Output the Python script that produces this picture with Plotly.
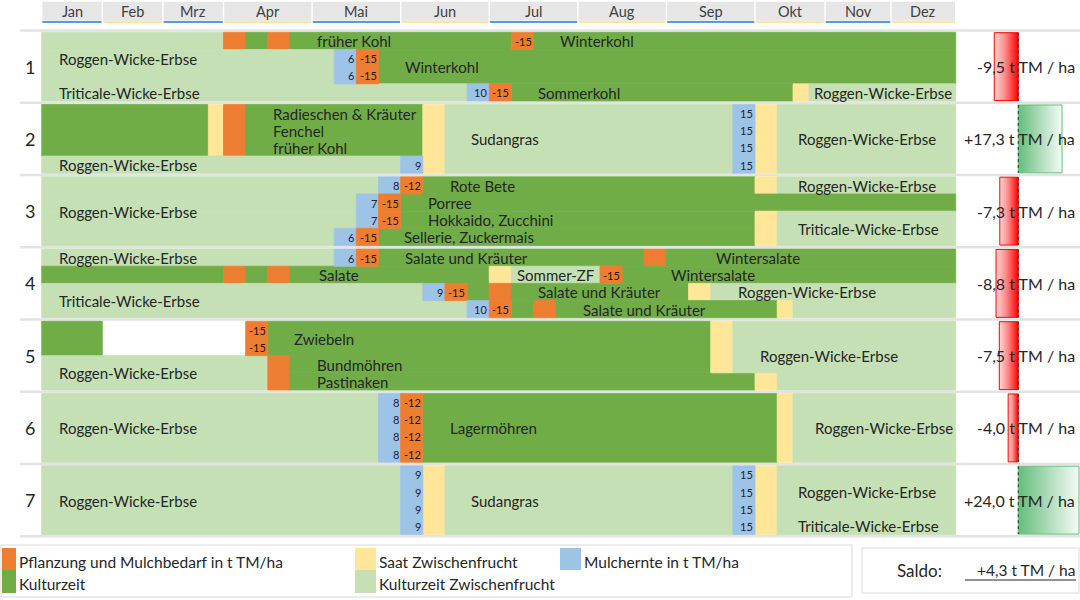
import plotly.graph_objects as go

# ---------------- data ----------------
MONTHS = ["Jan", "Feb", "Mrz", "Apr", "Mai", "Jun", "Jul", "Aug", "Sep", "Okt", "Nov", "Dez"]
ROW_NUMBERS = ["1", "2", "3", "4", "5", "6", "7"]
SALDO = [-9.5, 17.3, -7.3, -8.8, -7.5, -4.0, 24.0]
SALDO_TOTAL = 4.3
UNIT = "t TM / ha"

LEGEND_KINDS = ["P", "K", "S", "Z", "M"]
LEGEND_LABELS = ["Pflanzung und Mulchbedarf in t TM/ha", "Kulturzeit", "Saat Zwischenfrucht",
                 "Kulturzeit Zwischenfrucht", "Mulchernte in t TM/ha"]

# phases: (lane_from, lane_to, week_from, week_to, kind)
# P = Pflanzung, K = Kulturzeit, S = Saat Zwischenfrucht, Z = Kulturzeit Zwischenfrucht
ROW1_PHASES = [(0, 1, 0, 12, "Z"), (0, 1, 12, 13, "P"), (0, 1, 13, 14, "K"), (0, 1, 14, 15, "P"),
               (0, 1, 15, 25, "K"), (0, 1, 26, 48, "K"),
               (1, 3, 0, 17, "Z"), (1, 3, 19, 48, "K"),
               (3, 4, 0, 23, "Z"), (3, 4, 25, 38, "K"), (3, 4, 38, 39, "S"), (3, 4, 39, 48, "Z")]
ROW2_PHASES = [(0, 3, 0, 11, "K"), (0, 3, 11, 12, "S"), (0, 3, 12, 13, "P"), (0, 3, 13, 21, "K"),
               (3, 4, 0, 20, "Z"), (0, 4, 21, 22, "S"), (0, 4, 22, 35, "Z"), (0, 4, 36, 37, "S"),
               (0, 4, 37, 48, "Z")]
ROW3_PHASES = [(0, 1, 0, 19, "Z"), (0, 1, 21, 36, "K"), (0, 1, 36, 37, "S"), (0, 1, 37, 48, "Z"),
               (1, 2, 0, 18, "Z"), (1, 2, 20, 48, "K"),
               (2, 3, 0, 18, "Z"), (2, 3, 20, 36, "K"),
               (3, 4, 0, 17, "Z"), (3, 4, 19, 36, "K"),
               (2, 4, 36, 37, "S"), (2, 4, 37, 48, "Z")]
ROW4_PHASES = [(0, 1, 0, 17, "Z"), (0, 1, 19, 31, "K"), (0, 1, 31, 32, "P"), (0, 1, 32, 48, "K"),
               (1, 2, 0, 12, "K"), (1, 2, 12, 13, "P"), (1, 2, 13, 14, "K"), (1, 2, 14, 15, "P"),
               (1, 2, 15, 24, "K"), (1, 2, 24, 25, "S"), (1, 2, 25, 29, "Z"), (1, 2, 30, 48, "K"),
               (2, 3, 0, 21, "Z"), (2, 3, 23, 24, "K"), (2, 3, 24, 25, "P"), (2, 3, 25, 33, "K"),
               (2, 3, 33, 34, "S"), (2, 3, 34, 48, "Z"),
               (3, 4, 0, 23, "Z"), (3, 4, 25, 26, "K"), (3, 4, 26, 27, "P"), (3, 4, 27, 37, "K"),
               (3, 4, 37, 38, "S"), (3, 4, 38, 48, "Z")]
ROW5_PHASES = [(0, 2, 0, 4, "K"), (0, 2, 14, 34, "K"),
               (2, 4, 0, 14, "Z"), (2, 4, 14, 15, "P"), (2, 3, 15, 34, "K"),
               (3, 4, 15, 36, "K"), (3, 4, 36, 37, "S"), (3, 4, 37, 48, "Z"),
               (0, 3, 34, 35, "S"), (0, 3, 35, 48, "Z")]
ROW6_PHASES = [(0, 4, 0, 19, "Z"), (0, 4, 21, 37, "K"), (0, 4, 37, 38, "S"), (0, 4, 38, 48, "Z")]
ROW7_PHASES = [(0, 4, 0, 20, "Z"), (0, 4, 21, 22, "S"), (0, 4, 22, 35, "Z"), (0, 4, 36, 37, "S"),
               (0, 4, 37, 48, "Z")]

# mulch values: (lane, week, t TM/ha) -> positive = Mulchernte, negative = Mulchbedarf
ROW1_VALUES = [(1, 17, 6), (2, 17, 6), (1, 18, -15), (2, 18, -15), (0, 25, -15), (3, 23, 10), (3, 24, -15)]
ROW2_VALUES = [(3, 20, 9), (0, 35, 15), (1, 35, 15), (2, 35, 15), (3, 35, 15)]
ROW3_VALUES = [(0, 19, 8), (0, 20, -12), (1, 18, 7), (1, 19, -15), (2, 18, 7), (2, 19, -15),
               (3, 17, 6), (3, 18, -15)]
ROW4_VALUES = [(0, 17, 6), (0, 18, -15), (1, 29, -15), (2, 21, 9), (2, 22, -15), (3, 23, 10), (3, 24, -15)]
ROW5_VALUES = [(0, 13, -15), (1, 13, -15)]
ROW6_VALUES = [(0, 19, 8), (1, 19, 8), (2, 19, 8), (3, 19, 8),
               (0, 20, -12), (1, 20, -12), (2, 20, -12), (3, 20, -12)]
ROW7_VALUES = [(0, 20, 9), (1, 20, 9), (2, 20, 9), (3, 20, 9),
               (0, 35, 15), (1, 35, 15), (2, 35, 15), (3, 35, 15)]

# crop labels: (lane_from, lane_to, text)
ROW1_LABELS = [(0, 1, "früher Kohl"), (0, 1, "Winterkohl"), (0, 3, "Roggen-Wicke-Erbse"),
               (1, 3, "Winterkohl"), (3, 4, "Triticale-Wicke-Erbse"), (3, 4, "Sommerkohl"),
               (3, 4, "Roggen-Wicke-Erbse")]
ROW2_LABELS = [(0, 1, "Radieschen & Kräuter"), (1, 2, "Fenchel"), (2, 3, "früher Kohl"),
               (3, 4, "Roggen-Wicke-Erbse"), (0, 4, "Sudangras"), (0, 4, "Roggen-Wicke-Erbse")]
ROW3_LABELS = [(0, 4, "Roggen-Wicke-Erbse"), (0, 1, "Rote Bete"), (1, 2, "Porree"),
               (2, 3, "Hokkaido, Zucchini"), (3, 4, "Sellerie, Zuckermais"),
               (0, 1, "Roggen-Wicke-Erbse"), (2, 4, "Triticale-Wicke-Erbse")]
ROW4_LABELS = [(0, 1, "Roggen-Wicke-Erbse"), (0, 1, "Salate und Kräuter"), (0, 1, "Wintersalate"),
               (1, 2, "Salate"), (1, 2, "Sommer-ZF"), (1, 2, "Wintersalate"),
               (2, 4, "Triticale-Wicke-Erbse"), (2, 3, "Salate und Kräuter"),
               (2, 3, "Roggen-Wicke-Erbse"), (3, 4, "Salate und Kräuter")]
ROW5_LABELS = [(0, 2, "Zwiebeln"), (2, 3, "Bundmöhren"), (3, 4, "Pastinaken"),
               (2, 4, "Roggen-Wicke-Erbse"), (0, 4, "Roggen-Wicke-Erbse")]
ROW6_LABELS = [(0, 4, "Roggen-Wicke-Erbse"), (0, 4, "Lagermöhren"), (0, 4, "Roggen-Wicke-Erbse")]
ROW7_LABELS = [(0, 4, "Roggen-Wicke-Erbse"), (0, 4, "Sudangras"), (0, 3, "Roggen-Wicke-Erbse"),
               (3, 4, "Triticale-Wicke-Erbse")]

# ---------------- layout / styling ----------------
ROW1_LABEL_X = [316, 559, 58, 404, 58, 537, 813]
ROW2_LABEL_X = [272, 272, 272, 58, 470, 797]
ROW3_LABEL_X = [58, 449, 427, 427, 403, 797, 797]
ROW4_LABEL_X = [58, 404, 715, 318, 516, 670, 58, 537, 737, 582]
ROW5_LABEL_X = [293, 316, 316, 58, 759]
ROW6_LABEL_X = [58, 449, 814]
ROW7_LABEL_X = [58, 470, 797, 797]

PHASES = [ROW1_PHASES, ROW2_PHASES, ROW3_PHASES, ROW4_PHASES, ROW5_PHASES, ROW6_PHASES, ROW7_PHASES]
VALUES = [ROW1_VALUES, ROW2_VALUES, ROW3_VALUES, ROW4_VALUES, ROW5_VALUES, ROW6_VALUES, ROW7_VALUES]
LABELS = [ROW1_LABELS, ROW2_LABELS, ROW3_LABELS, ROW4_LABELS, ROW5_LABELS, ROW6_LABELS, ROW7_LABELS]
LABEL_X = [ROW1_LABEL_X, ROW2_LABEL_X, ROW3_LABEL_X, ROW4_LABEL_X, ROW5_LABEL_X, ROW6_LABEL_X, ROW7_LABEL_X]

COLORS = {"P": "#ED7D31", "K": "#70AD47", "S": "#FFE699", "Z": "#C5E0B4", "M": "#9DC3E6"}
FONT = "Lato, 'Open Sans', sans-serif"
TXT = "#262626"

WEEK_W = [15.15] * 12 + [22.146] * 24 + [22.2, 15.8, 16.0, 16.0] + [16.5] * 4 + [16.175] * 4
EDGES = [41.7]
for w in WEEK_W:
    EDGES.append(EDGES[-1] + w)

ROW_TOP0, ROW_PITCH, ROW_H = 32.3, 72.25, 68.7
LANE_H = ROW_H / 4


def ly(r, lane):
    return ROW_TOP0 + r * ROW_PITCH + lane * LANE_H


shapes = []
annotations = []


def rect(x0, x1, y0, y1, color, seamless=False, layer="below"):
    line = dict(color=color, width=0.8) if seamless else dict(width=0)
    shapes.append(dict(type="rect", xref="x", yref="y", x0=x0, x1=x1, y0=y0, y1=y1,
                       fillcolor=color, line=line, layer=layer))


def label(x, y, s, size, anchor="left", color=TXT):
    annotations.append(dict(x=x, y=y, xref="x", yref="y", text=s, showarrow=False,
                            xanchor=anchor, yanchor="middle", borderpad=0,
                            font=dict(size=size, color=color, family=FONT)))


# header
for m, name in enumerate(MONTHS):
    x0, x1 = EDGES[4 * m], EDGES[4 * m + 4]
    rect(x0 + 0.7, x1 - 0.7, 1.7, 20.8, "#E7E6E6")
    rect(x0 + 0.7, x1 - 0.7, 21.0, 23.0, "#5B9BD5" if m % 2 == 0 else "#FFE699")
    label((x0 + x1) / 2, 11.5, name, 14.5, "center", "#404040")

# row separators
for r in range(8):
    y = ROW_TOP0 + r * ROW_PITCH - 1.8
    shapes.append(dict(type="line", xref="x", yref="y", x0=20, x1=1080, y0=y, y1=y,
                       line=dict(color="#E3E3E3", width=2.4), layer="below"))

fig = go.Figure()

for r in range(7):
    for (l0, l1, w0, w1, kind) in PHASES[r]:
        rect(EDGES[w0], EDGES[w1], ly(r, l0), ly(r, l1), COLORS[kind], seamless=True)
    for (lane, week, v) in VALUES[r]:
        rect(EDGES[week], EDGES[week + 1], ly(r, lane), ly(r, lane + 1),
             COLORS["M"] if v > 0 else COLORS["P"], seamless=True)
    for (lane, week, v) in VALUES[r]:
        label(EDGES[week + 1] - 1.0, (ly(r, lane) + ly(r, lane + 1)) / 2 + 0.5, str(v), 11,
              "right", "#1B2533" if v > 0 else "#24160C")
    for (l0, l1, s), x in zip(LABELS[r], LABEL_X[r]):
        label(x, (ly(r, l0) + ly(r, l1)) / 2 + 0.5, s, 15, "left")
    label(30, ly(r, 0) + ROW_H / 2, ROW_NUMBERS[r], 18, "center")

# saldo bars (own axis)
for r, v in enumerate(SALDO):
    y0, y1 = ly(r, 0) + 0.4, ly(r, 4) - 0.4
    if v < 0:
        cs = [[0, "#FFD6D6"], [0.45, "#FF8A8A"], [1, "#FF0000"]]
        lc = "#FF0000"
    else:
        cs = [[0, "#63BE7B"], [0.55, "#B5DFC0"], [1, "#F4FBF6"]]
        lc = "#63BE7B"
    fig.add_trace(go.Scatter(x=[v, 0, 0, v, v], y=[y0, y0, y1, y1, y0], xaxis="x2", yaxis="y",
                             mode="lines", fill="toself", line=dict(color=lc, width=1),
                             fillgradient=dict(type="horizontal", colorscale=cs),
                             hoverinfo="skip", showlegend=False))
    shapes.append(dict(type="line", xref="x2", yref="y", x0=0, x1=0, y0=y0, y1=y1,
                       line=dict(color="#333333", width=1, dash="dot"), layer="above"))
    txt = f"{v:+.1f}".replace(".", ",") + " " + UNIT
    label(1076, ly(r, 0) + ROW_H / 2, txt, 16, "right")

# legend
LEGEND_POS = [(2, 16, 548, 570), (2, 16, 570, 593), (355, 376, 548, 570), (355, 376, 570, 593),
              (560, 581, 548, 570)]
shapes.append(dict(type="rect", xref="x", yref="y", x0=1, x1=852, y0=545, y1=597,
                   line=dict(color="#DADADA", width=1), fillcolor="rgba(0,0,0,0)", layer="below"))
for kind, name, (x0, x1, y0, y1) in zip(LEGEND_KINDS, LEGEND_LABELS, LEGEND_POS):
    rect(x0, x1, y0, y1, COLORS[kind])
    label(x1 + 2, (y0 + y1) / 2 + 2.5, name, 15.5, "left")

# saldo total
shapes.append(dict(type="rect", xref="x", yref="y", x0=862, x1=1079, y0=548, y1=593,
                   line=dict(color="#DADADA", width=1), fillcolor="rgba(0,0,0,0)", layer="below"))
label(896, 570, "Saldo:", 17, "left")
label(1076, 570, f"{SALDO_TOTAL:+.1f}".replace(".", ",") + " " + UNIT, 15.5, "right")
shapes.append(dict(type="line", xref="x", yref="y", x0=965, x1=1076, y0=580, y1=580,
                   line=dict(color=TXT, width=1), layer="above"))

fig.update_layout(
    width=1080, height=600, margin=dict(l=0, r=0, t=0, b=0),
    paper_bgcolor="white", plot_bgcolor="rgba(0,0,0,0)",
    xaxis=dict(range=[0, 1080], domain=[0, 1], visible=False, fixedrange=True),
    xaxis2=dict(range=[-23.04, 24.4], domain=[960 / 1080, 1], anchor="y", visible=False, fixedrange=True),
    yaxis=dict(range=[600, 0], domain=[0, 1], visible=False, fixedrange=True),
    shapes=shapes, annotations=annotations, showlegend=False,
)

fig.write_html("out.html", config={"displayModeBar": False},
               post_script="document.body.style.margin='0';document.body.style.overflow='hidden';")
